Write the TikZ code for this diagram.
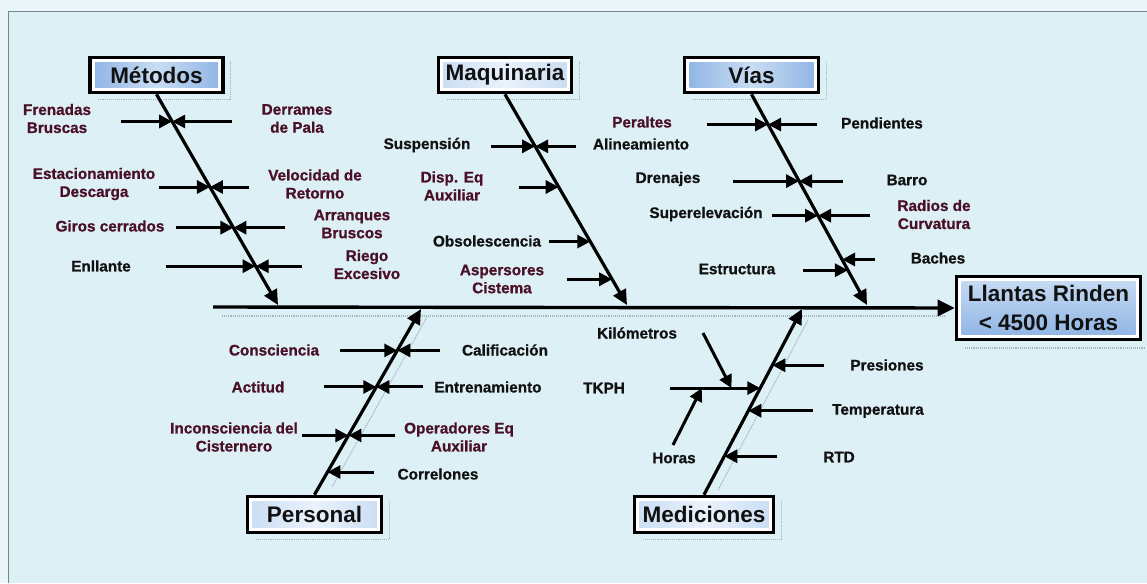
\documentclass[tikz,border=0pt]{standalone}
\usepackage{fontspec}
\setmainfont{Liberation Sans}
\newfontfamily\causefont{Liberation Sans Bold}[FakeBold=0.8]
\usetikzlibrary{arrows.meta,calc}

\definecolor{bg}{HTML}{DDF0F5}
\definecolor{bgedge}{HTML}{EAF6F9}
\definecolor{framegray}{HTML}{6F8988}
\definecolor{causered}{HTML}{4A1027}
\definecolor{ink}{HTML}{111111}
\definecolor{boxblue}{HTML}{8DB3E4}
\definecolor{boxpale}{HTML}{C9DDF3}
\definecolor{boxwhite}{HTML}{EAF2FB}
\definecolor{shadowdot}{HTML}{A3B6BC}

\tikzset{
  lbl/.style={font=\causefont\fontsize{15.3}{18}\selectfont, text=ink, align=center, inner sep=0pt},
  lblr/.style={lbl, text=causered},
  catbox/.style={draw=black, line width=3.6pt, fill=white, inner sep=0pt,
    font=\bfseries\fontsize{22.5}{26}\selectfont, text=ink},
  hshade/.style 2 args={path picture={\shade[left color=#1, right color=#1, middle color=#2]
      ($(path picture bounding box.south west)+(5pt,5pt)$) rectangle
      ($(path picture bounding box.north east)+(-5pt,-5pt)$);}},
  vshade/.style 2 args={path picture={\shade[top color=#1, bottom color=#2]
      ($(path picture bounding box.south west)+(5pt,5pt)$) rectangle
      ($(path picture bounding box.north east)+(-5pt,-5pt)$);}},
  bone/.style={line width=3.2pt, -{Triangle[length=15pt,width=14pt]}},
  rib/.style={line width=3pt, -{Triangle[length=13pt,width=13pt]}},
  spine/.style={line width=3.4pt, -{Triangle[length=17pt,width=16pt]}},
  shadowline/.style={shadowdot, densely dotted, line width=1.1pt},
}

% a cause arrow coming from the left / from the right onto a bone point
\newcommand\causeL[2]{\coordinate (#1-l) at ($(#1)+(-#2,0)$); \draw[rib] (#1-l) -- (#1);}
\newcommand\causeR[2]{\coordinate (#1-r) at ($(#1)+(#2,0)$); \draw[rib] (#1-r) -- (#1);}

\begin{document}
\begin{tikzpicture}[x=1pt, y=-1pt]
\useasboundingbox (0,0) rectangle (1147,583);

% background and frame
\fill[bgedge] (0,0) rectangle (1147,583);
\fill[bg] (8,11) rectangle (1147,583);
\draw[framegray, line width=1.8pt] (8.5,583) -- (8.5,11.5) -- (1147,11.5);

% faint dotted guide lines
\draw[shadowline] (222,316) -- (945,316);
\draw[shadowline] (965,348) -- (1145,348);
\draw[shadowline] (427,317) -- (332,487);
\draw[shadowline] (808,320) -- (718,490);

% category boxes and effect box
\node[catbox, hshade={boxblue}{boxpale}, minimum width=133pt, minimum height=35pt] (met) at (156.5,75) {Métodos};
\node[catbox, hshade={boxpale}{boxwhite}, minimum width=133pt, minimum height=35pt] (maq) at (505,75) {Maquinaria};
\node[catbox, hshade={boxblue}{boxpale}, minimum width=134pt, minimum height=35pt] (via) at (751.5,75) {Vías};
\node[catbox, hshade={boxpale}{boxwhite}, minimum width=134pt, minimum height=36pt] (per) at (314.5,514.5) {Personal};
\node[catbox, hshade={boxpale}{boxwhite}, minimum width=139pt, minimum height=36pt] (med) at (704,514.5) {Mediciones};
\node[catbox, vshade={boxpale}{boxblue}, minimum width=184pt, minimum height=63pt, align=center,
      font=\bfseries\fontsize{22.5}{29}\selectfont] (goal) at (1048.5,308) {Llantas Rinden\\< 4500 Horas};

\foreach \b in {met,maq,via,per,med}
  \draw[shadowline] ($(\b.south west)+(10,5)$) -- ($(\b.south east)+(6,5)$) -- ($(\b.north east)+(6,6)$);

% spine
\coordinate (spS) at (213,307);
\draw[spine] (spS) -- (goal.west);

% bones
\coordinate (metE) at (278,305);
\coordinate (maqE) at (627,305);
\coordinate (viaE) at (867,305);
\coordinate (perE) at (421,309);
\coordinate (medE) at (802,309);
\draw[bone] (met.south) -- (metE);
\draw[bone] (maq.south) -- (maqE);
\draw[bone] (via.south) -- (viaE);
\draw[bone] (per.north) -- (perE);
\draw[bone] (med.north) -- (medE);

% Métodos
\coordinate (m1) at ($(met.south)!0.129!(metE)$);
\coordinate (m2) at ($(met.south)!0.440!(metE)$);
\coordinate (m3) at ($(met.south)!0.633!(metE)$);
\coordinate (m4) at ($(met.south)!0.816!(metE)$);
\causeL{m1}{51} \causeR{m1}{60}
\causeL{m2}{51} \causeR{m2}{39}
\causeL{m3}{57} \causeR{m3}{52}
\causeL{m4}{90} \causeR{m4}{46}
\node[lblr] (fren) at (57,118.5) {Frenadas\\Bruscas};
\node[lblr] (derr) at (297,118.5) {Derrames\\de Pala};
\node[lblr] (esta) at (94,184) {Estacionamiento\\Descarga};
\node[lblr] (velo) at (315,184) {Velocidad de\\Retorno};
\node[lblr] (giro) at (110,226) {Giros cerrados};
\node[lblr] (arra) at (352,224) {Arranques\\Bruscos};
\node[lbl]  (enll) at (101,266) {Enllante};
\node[lblr] (rieg) at (367,264.5) {Riego\\Excesivo};

% Maquinaria
\coordinate (q1) at ($(maq.south)!0.247!(maqE)$);
\coordinate (q2) at ($(maq.south)!0.440!(maqE)$);
\coordinate (q3) at ($(maq.south)!0.699!(maqE)$);
\coordinate (q4) at ($(maq.south)!0.878!(maqE)$);
\causeL{q1}{44} \causeR{q1}{41}
\causeL{q2}{40}
\causeL{q3}{41}
\causeL{q4}{45}
\node[lbl]  (susp) at (427,145) {Suspensión};
\node[lbl]  (alin) at (641,144) {Alineamiento};
\node[lblr] (disp) at (452,186) {Disp. Eq\\Auxiliar};
\node[lbl]  (obso) at (487,241) {Obsolescencia};
\node[lblr] (aspe) at (502,279) {Aspersores\\Cistema};

% Vías
\coordinate (v1) at ($(via.south)!0.1435!(viaE)$);
\coordinate (v2) at ($(via.south)!0.412!(viaE)$);
\coordinate (v3) at ($(via.south)!0.576!(viaE)$);
\coordinate (v4) at ($(via.south)!0.784!(viaE)$);
\coordinate (v5) at ($(via.south)!0.835!(viaE)$);
\causeL{v1}{61} \causeR{v1}{49}
\causeL{v2}{66} \causeR{v2}{44}
\causeL{v3}{46} \causeR{v3}{52}
\causeR{v4}{33}
\causeL{v5}{45}
\node[lblr] (pera) at (642,122) {Peraltes};
\node[lbl]  (pend) at (882,123) {Pendientes};
\node[lbl]  (dren) at (668,179) {Drenajes};
\node[lbl]  (barr) at (907,180) {Barro};
\node[lbl]  (supe) at (706,214) {Superelevación};
\node[lblr] (radi) at (934,214.5) {Radios de\\Curvatura};
\node[lbl]  (estr) at (737,269) {Estructura};
\node[lbl]  (bach) at (938,258) {Baches};

% Personal
\coordinate (p1) at ($(per.north)!0.777!(perE)$);
\coordinate (p2) at ($(per.north)!0.580!(perE)$);
\coordinate (p3) at ($(per.north)!0.319!(perE)$);
\coordinate (p4) at ($(per.north)!0.122!(perE)$);
\causeL{p1}{57} \causeR{p1}{43}
\causeL{p2}{52} \causeR{p2}{47}
\causeL{p3}{46} \causeR{p3}{47}
\causeR{p4}{47}
\node[lblr] (cons) at (274,350) {Consciencia};
\node[lbl]  (cali) at (505,350) {Calificación};
\node[lblr] (acti) at (258,387) {Actitud};
\node[lbl]  (entr) at (488,387) {Entrenamiento};
\node[lblr] (inco) at (234,437) {Inconsciencia del\\Cisternero};
\node[lblr] (oper) at (459,437) {Operadores Eq\\Auxiliar};
\node[lbl]  (corr) at (438,474) {Correlones};

% Mediciones
\coordinate (d1) at ($(med.north)!0.697!(medE)$);
\coordinate (d2) at ($(med.north)!0.574!(medE)$);
\coordinate (d3) at ($(med.north)!0.452!(medE)$);
\coordinate (d4) at ($(med.north)!0.207!(medE)$);
\causeR{d1}{52}
\causeL{d2}{90}
\causeR{d3}{65}
\causeR{d4}{53}
\coordinate (kA) at (703,333);
\coordinate (kB) at ($(d2-l)!0.68!(d2)$);
\coordinate (hA) at (673,445);
\coordinate (hB) at ($(d2-l)!0.35!(d2)$);
\draw[rib] (kA) -- (kB);
\draw[rib] (hA) -- (hB);
\node[lbl] (kilo) at (637,333) {Kilómetros};
\node[lbl] (tkph) at (604,388) {TKPH};
\node[lbl] (hora) at (674,458) {Horas};
\node[lbl] (pres) at (887,365) {Presiones};
\node[lbl] (temp) at (878,411) {Temperatura};
\node[lbl] (rtd)  at (839,457) {RTD};

\end{tikzpicture}
\end{document}
